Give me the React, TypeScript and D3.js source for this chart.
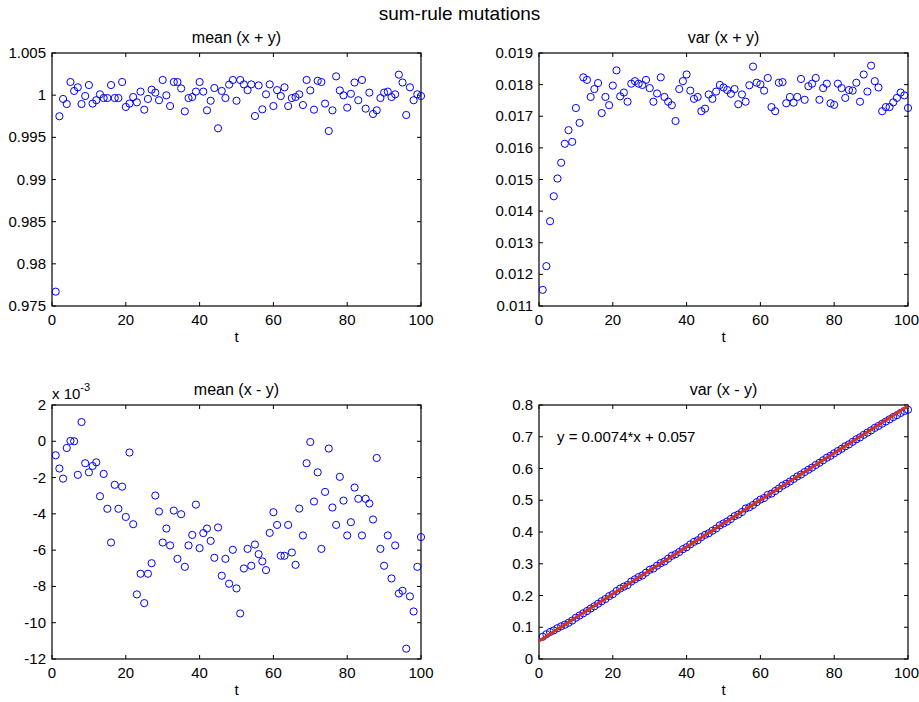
import React, { useRef, useEffect } from "react";
import * as d3 from "d3";

const MAIN_TITLE = "sum-rule mutations";
const X_TICKS = [0, 20, 40, 60, 80, 100];

const meanSum = [
  0.9767, 0.9975, 0.99955, 0.99895, 1.00156, 1.0005, 1.00093, 0.99895, 0.9999, 1.0012,
  0.999, 0.9994, 1.0001, 0.99966, 0.99966, 1.0012, 0.99966, 0.99966, 1.00156, 0.9986,
  0.999, 0.99978, 0.99915, 1.00042, 0.99828, 0.99955, 1.00065, 1.0003, 0.9994, 1.0018,
  0.99998, 0.99871, 1.00156, 1.00156, 1.0008, 0.99808, 0.99966, 0.99978, 1.00042, 1.00156,
  1.00042, 0.9982, 0.99934, 1.00085, 0.99607, 1.0005, 0.99966, 1.00125, 1.0018, 0.99934,
  1.0018, 1.00128, 1.0006, 1.00128, 0.99753, 1.00116, 0.99832, 1.0001, 1.00128, 0.99871,
  1.0006, 0.9999, 1.00093, 0.99871, 0.99966, 0.99978, 1.0001, 0.99883, 1.0018, 1.00056,
  0.99828, 1.0017, 1.00156, 0.999, 0.99575, 0.9982, 1.00223, 1.00056, 0.99998, 0.99852,
  1.00016, 1.0015, 0.9994, 1.0018, 0.9984, 1.0003, 0.99777, 0.9982, 0.99966, 1.0003,
  1.00042, 0.99978, 1.0001, 1.00243, 1.0015, 0.99765, 1.00093, 0.9994, 1.0001, 0.9999,
];

const varSum = [
  0.01151, 0.01226, 0.01368, 0.01447, 0.01503, 0.01553, 0.01613, 0.01656, 0.01619, 0.01726,
  0.01679, 0.01823, 0.01815, 0.01761, 0.01786, 0.01805, 0.0171, 0.01761, 0.01735, 0.01797,
  0.01845, 0.01763, 0.01775, 0.01746, 0.01803, 0.01811, 0.01803, 0.01799, 0.01815, 0.01789,
  0.01746, 0.01772, 0.01823, 0.01761, 0.01746, 0.01735, 0.01685, 0.01786, 0.01811, 0.01832,
  0.01781, 0.01755, 0.01761, 0.01716, 0.01724, 0.01769, 0.01755, 0.01778, 0.01799, 0.01791,
  0.01783, 0.01771, 0.01786, 0.01738, 0.01769, 0.01746, 0.01798, 0.01857, 0.01806, 0.01801,
  0.01781, 0.01821, 0.01729, 0.01716, 0.01806, 0.01808, 0.01741, 0.01761, 0.01743, 0.01761,
  0.01818, 0.01752, 0.01795, 0.01803, 0.01821, 0.01752, 0.01789, 0.01803, 0.01741, 0.01736,
  0.01803, 0.01789, 0.01758, 0.01783, 0.01781, 0.01806, 0.01746, 0.01832, 0.01778, 0.0186,
  0.01811, 0.01791, 0.01716, 0.01729, 0.01729, 0.01744, 0.01758, 0.01775, 0.01766, 0.01726,
];

// values in units of 1e-3
const meanDiff = [
  -0.77, -1.5, -2.06, -0.37, 0.02, 0.0, -1.85, 1.06, -1.21, -1.71,
  -1.36, -1.16, -3.03, -1.8, -3.72, -5.58, -2.4, -3.72, -2.5, -4.17,
  -0.62, -4.57, -8.44, -7.3, -8.92, -7.3, -6.72, -2.99, -3.87, -5.58,
  -4.81, -5.74, -3.82, -6.48, -4.02, -6.92, -5.74, -5.16, -3.49, -5.89,
  -5.06, -4.81, -5.49, -6.42, -4.75, -7.41, -6.48, -7.85, -5.98, -8.11,
  -9.49, -7.01, -5.93, -6.86, -5.69, -6.22, -6.62, -7.1, -5.05, -3.91,
  -4.61, -6.31, -6.31, -4.61, -6.13, -6.81, -3.71, -5.19, -1.21, -0.04,
  -3.32, -1.71, -5.93, -2.79, -0.4, -3.65, -4.61, -1.96, -3.27, -5.19,
  -4.46, -2.55, -3.17, -5.19, -3.17, -3.43, -4.31, -0.92, -5.93, -6.86,
  -5.19, -7.56, -5.74, -8.39, -8.24, -11.43, -8.55, -9.38, -6.92, -5.28,
];

const varDiff = [
  0.07, 0.078, 0.085, 0.09, 0.097, 0.103, 0.108, 0.114, 0.121, 0.13,
  0.137, 0.144, 0.151, 0.159, 0.166, 0.174, 0.182, 0.189, 0.198, 0.204,
  0.214, 0.222, 0.228, 0.233, 0.244, 0.251, 0.258, 0.263, 0.272, 0.281,
  0.285, 0.294, 0.302, 0.307, 0.316, 0.325, 0.33, 0.337, 0.346, 0.352,
  0.361, 0.369, 0.374, 0.384, 0.391, 0.396, 0.404, 0.411, 0.421, 0.427,
  0.433, 0.441, 0.45, 0.455, 0.463, 0.474, 0.478, 0.485, 0.494, 0.502,
  0.507, 0.517, 0.521, 0.529, 0.537, 0.546, 0.552, 0.559, 0.567, 0.575,
  0.581, 0.589, 0.596, 0.603, 0.611, 0.618, 0.626, 0.634, 0.64, 0.648,
  0.655, 0.662, 0.67, 0.676, 0.684, 0.692, 0.698, 0.706, 0.713, 0.72,
  0.728, 0.734, 0.741, 0.748, 0.755, 0.762, 0.768, 0.775, 0.781, 0.785,
];

const FIT_SLOPE = 0.0074;
const FIT_INTERCEPT = 0.057;
const FIT_RANGE = [0, 100];
const FIT_LABEL = "y = 0.0074*x + 0.057";

const Y1_TICKS = [0.975, 0.98, 0.985, 0.99, 0.995, 1, 1.005];
const Y1_LABELS = ["0.975", "0.98", "0.985", "0.99", "0.995", "1", "1.005"];
const Y2_TICKS = [0.011, 0.012, 0.013, 0.014, 0.015, 0.016, 0.017, 0.018, 0.019];
const Y2_LABELS = ["0.011", "0.012", "0.013", "0.014", "0.015", "0.016", "0.017", "0.018", "0.019"];
const Y3_TICKS = [-12, -10, -8, -6, -4, -2, 0, 2];
const Y3_LABELS = ["-12", "-10", "-8", "-6", "-4", "-2", "0", "2"];
const Y4_TICKS = [0, 0.1, 0.2, 0.3, 0.4, 0.5, 0.6, 0.7, 0.8];
const Y4_LABELS = ["0", "0.1", "0.2", "0.3", "0.4", "0.5", "0.6", "0.7", "0.8"];

const FONT = "'Liberation Sans', Arial, Helvetica, sans-serif";

export default function App() {
  const ref = useRef<SVGSVGElement>(null);

  useEffect(() => {
    const svg = d3.select(ref.current);
    svg.selectAll("*").remove();

    svg
      .append("text")
      .attr("x", 459.5)
      .attr("y", 20)
      .attr("text-anchor", "middle")
      .attr("font-family", FONT)
      .attr("font-size", 19)
      .text(MAIN_TITLE);

    const panels = [
      { title: "mean (x + y)", data: meanSum, x0: 52, x1: 421, y0: 53, y1: 306, domain: [0.975, 1.005], ticks: Y1_TICKS, labels: Y1_LABELS },
      { title: "var (x + y)", data: varSum, x0: 539, x1: 908, y0: 53, y1: 306, domain: [0.011, 0.019], ticks: Y2_TICKS, labels: Y2_LABELS },
      { title: "mean (x - y)", data: meanDiff, x0: 52, x1: 421, y0: 405, y1: 659, domain: [-12, 2], ticks: Y3_TICKS, labels: Y3_LABELS, exp: true },
      { title: "var (x - y)", data: varDiff, x0: 539, x1: 908, y0: 405, y1: 659, domain: [0, 0.8], ticks: Y4_TICKS, labels: Y4_LABELS, fit: true },
    ];

    panels.forEach((p) => {
      const g = svg.append("g");
      const x = d3.scaleLinear().domain([0, 100]).range([p.x0, p.x1]);
      const y = d3.scaleLinear().domain(p.domain).range([p.y1, p.y0]);
      const tl = 4;

      g.append("rect")
        .attr("x", p.x0)
        .attr("y", p.y0)
        .attr("width", p.x1 - p.x0)
        .attr("height", p.y1 - p.y0)
        .attr("fill", "#fff");

      X_TICKS.forEach((t) => {
        const xp = x(t);
        g.append("line").attr("x1", xp).attr("x2", xp).attr("y1", p.y1).attr("y2", p.y1 - tl).attr("stroke", "#000");
        g.append("line").attr("x1", xp).attr("x2", xp).attr("y1", p.y0).attr("y2", p.y0 + tl).attr("stroke", "#000");
        g.append("text")
          .attr("x", t === 100 && p.x1 > 900 ? xp - 1.5 : xp)
          .attr("y", p.y1 + 19)
          .attr("text-anchor", "middle")
          .attr("font-family", FONT)
          .attr("font-size", 15)
          .text(String(t));
      });
      p.ticks.forEach((v, i) => {
        const yp = y(v);
        g.append("line").attr("x1", p.x0).attr("x2", p.x0 + tl).attr("y1", yp).attr("y2", yp).attr("stroke", "#000");
        g.append("line").attr("x1", p.x1).attr("x2", p.x1 - tl).attr("y1", yp).attr("y2", yp).attr("stroke", "#000");
        g.append("text")
          .attr("x", p.x0 - 6)
          .attr("y", yp + 5)
          .attr("text-anchor", "end")
          .attr("font-family", FONT)
          .attr("font-size", 15)
          .text(p.labels[i]);
      });

      g.append("rect")
        .attr("x", p.x0)
        .attr("y", p.y0)
        .attr("width", p.x1 - p.x0)
        .attr("height", p.y1 - p.y0)
        .attr("fill", "none")
        .attr("stroke", "#000")
        .attr("stroke-width", 1.2);

      g.selectAll("circle.pt")
        .data(p.data)
        .enter()
        .append("circle")
        .attr("cx", (_d, i) => x(i + 1))
        .attr("cy", (d) => y(d))
        .attr("r", 3.6)
        .attr("fill", "none")
        .attr("stroke", "#0000ff")
        .attr("stroke-width", 1);

      if (p.fit) {
        const line = d3
          .line<number>()
          .x((t) => x(t))
          .y((t) => y(FIT_SLOPE * t + FIT_INTERCEPT));
        g.append("path")
          .attr("d", line(FIT_RANGE))
          .attr("stroke", "#d8321a")
          .attr("stroke-width", 3)
          .attr("fill", "none");
        g.append("text")
          .attr("x", p.x0 + 18)
          .attr("y", y(0.7) + 5)
          .attr("font-family", FONT)
          .attr("font-size", 15)
          .text(FIT_LABEL);
      }

      if (p.exp) {
        const t = g
          .append("text")
          .attr("x", p.x0)
          .attr("y", p.y0 - 6)
          .attr("font-family", FONT)
          .attr("font-size", 15);
        t.append("tspan").text("x 10");
        t.append("tspan").attr("dy", -8).attr("font-size", 11).text("-3");
      }

      g.append("text")
        .attr("x", (p.x0 + p.x1) / 2)
        .attr("y", p.y0 - 10)
        .attr("text-anchor", "middle")
        .attr("font-family", FONT)
        .attr("font-size", 16)
        .text(p.title);

      g.append("text")
        .attr("x", (p.x0 + p.x1) / 2)
        .attr("y", p.y1 + 36)
        .attr("text-anchor", "middle")
        .attr("font-family", FONT)
        .attr("font-size", 15)
        .text("t");
    });
  }, []);

  return (
    <svg
      ref={ref}
      width={919}
      height={702}
      style={{ position: "absolute", left: 0, top: 0, background: "#fff", display: "block" }}
    />
  );
}
